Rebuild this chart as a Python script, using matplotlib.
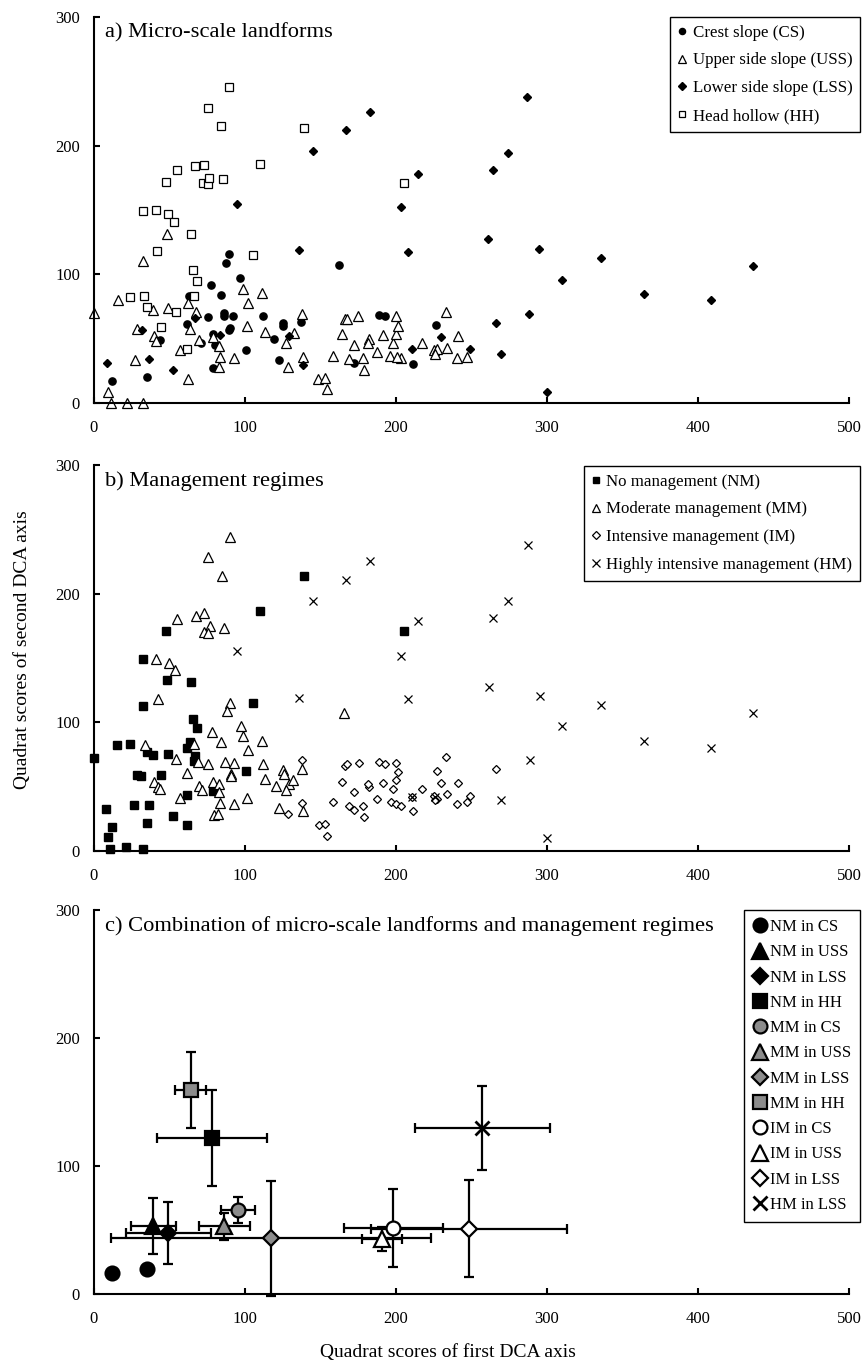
import numpy as np
import matplotlib
matplotlib.use("Agg")
import matplotlib.pyplot as plt

plt.rcParams['font.family'] = ['Liberation Serif', 'DejaVu Serif']

# ---- a) micro-scale landforms ----
cs_x = [89.6, 87.6, 162.5, 97, 77.5, 84, 63, 86.3, 86, 92.3, 75.3, 112, 188.5, 192.5, 226.5,
        125, 125, 137.3, 61.4, 90, 89.6, 119.4, 44, 70.9, 79, 80, 100.7, 211, 122.3, 172,
        78.8, 35, 11.7]
cs_y = [116, 109, 107, 97, 92, 84, 83, 70, 67.6, 67.6, 66.6, 68, 68.7, 67.6, 61,
        62, 59.8, 63, 61.4, 58.3, 56.7, 50, 49, 47, 54, 45.3, 41, 30, 33.4, 30.8,
        27, 20, 17]

uss_x = [0, 48.6, 32.7, 16.1, 49.2, 39.3, 62.5, 67.6, 98.5, 111.5, 102.2, 63.6, 28.5, 40,
         40.8, 57.2, 69.3, 79, 83, 83.4, 82.8, 27.2, 62.5, 9.3, 11, 21.6, 32.7, 92.5, 101,
         113.2, 127, 132.2, 128.5, 137.5, 138.6, 148.6, 152.8, 154.3, 158.5, 164, 166.2,
         167.3, 175, 172.4, 168.7, 178.4, 181.9, 181.7, 178.8, 187.2, 191.2, 196, 197.8,
         199.8, 201.3, 199.8, 203.3, 200.4, 217.4, 225.2, 227, 226, 233.5, 233.3, 240.8,
         240.2, 247.2]
uss_y = [70, 131, 110.6, 80, 74, 72, 78, 70.7, 88.9, 85.5, 78, 57.5, 57.5, 52.3,
         48, 41.5, 49, 51, 44, 36, 28.2, 33.7, 18.4, 8.3, 0, 0, 0, 35, 60,
         55.4, 46.4, 54.7, 28.2, 69, 35.8, 18.4, 19.4, 11, 36.8, 53.6, 65,
         65.5, 67.9, 44.8, 34.2, 34.7, 49.7, 47, 25.6, 39.4, 52.6, 36.5, 47,
         53.4, 60, 67.9, 34.7, 36, 47, 41, 41.7, 38.3, 42.7, 71, 52.3,
         34.7, 36]

lss_x = [182.8, 166.7, 145, 214.8, 94.5, 203.3, 261, 135.8, 208, 67, 31.6, 129, 229.6, 83.2,
         36.6, 8.4, 52.5, 138.6, 210.6, 249, 287, 274, 264, 295, 335.5, 310, 436.6, 364.4,
         408.4, 288, 266, 269.5, 300]
lss_y = [226, 212, 195.6, 178, 155, 152, 127.5, 118.6, 117.6, 65.8, 57, 52, 51.5, 52.8,
         34, 30.8, 25.6, 29.5, 42, 41.7, 238, 194.5, 181, 119.7, 113, 95.6, 106.7, 84.7,
         80, 69, 62.4, 38.3, 8.8]

hh_x = [89.6, 75.3, 84.1, 139, 54.7, 66.9, 72.6, 110, 47.5, 72, 75.3, 76.4, 85.7, 205.5,
        32.2, 40.8, 49, 53, 64.2, 41.7, 105, 65.3, 68, 23.8, 33.1, 66.2, 35.3, 54, 44.4, 61.6]
hh_y = [245.6, 229, 215, 214, 181, 184, 185, 186, 172, 171, 170, 175, 174, 171,
        149, 150, 146.6, 141, 131, 118, 115, 103, 95, 82, 83, 83, 75, 71, 58.8, 42]

# ---- b) management regimes ----
nm_x = [139, 110, 47.7, 205.5, 32.2, 48.3, 64.2, 32.2, 105.3, 65.3, 68, 15.5, 23.8, 63.6,
        34.9, 38.9, 49.2, 61.8, 67.1, 66.4, 0, 28.5, 31.4, 44.2, 100.7, 79, 61.4, 26.5,
        36.2, 52, 35.1, 61.8, 7.7, 11.7, 9, 10.6, 21.2, 32.2]
nm_y = [214, 186.5, 171, 171, 149, 132.6, 131.6, 112.7, 114.8, 102.8, 95.6, 82.6, 83.4, 84.7,
        77, 74.9, 75.6, 80.3, 73.6, 70, 72.5, 59, 58, 59.3, 62.2, 46.6, 43.5, 35.8,
        35.8, 27.2, 21.8, 20.2, 32.6, 18.7, 10.9, 1.8, 3.1, 1.8]

mm_x = [90, 75.7, 84.5, 55.2, 67.3, 73, 76.8, 73, 75.7, 86.1, 41.3, 49.7, 53.4, 42.2, 90,
        87.9, 165.6, 97.4, 78, 98.5, 84.3, 111.5, 33.8, 66.4, 102.2, 54.3, 69.1, 75.7,
        86.6, 92.7, 112.1, 125.4, 126, 137.8, 61.6, 90.5, 91, 40, 42.6, 44, 69.5, 71.3,
        79, 83, 82.6, 113.2, 120.3, 129, 131.6, 127, 57, 83.4, 92.7, 101, 122.7, 138.6,
        79.5, 82.1]
mm_y = [244, 228.5, 213.5, 180.6, 182.4, 185, 175, 170, 169.4, 173.6, 149.5, 146.4, 140.4, 118, 115.3,
        108.8, 107.5, 96.9, 92.2, 89, 84.7, 85.8, 82.6, 82.9, 78.2, 71.2, 69.2, 67.4,
        69.2, 68.4, 67.4, 62.7, 59.6, 64, 60.6, 60, 58, 53.6, 49.7, 48, 50.3, 47.2,
        53.6, 52.3, 45.9, 56.2, 50.3, 51.9, 55.4, 47.2, 41.5, 37.3, 36.3, 41.5, 33.7, 31.1,
        27.7, 28.5]

im_x = [137.8, 138, 128.3, 148.8, 152.8, 154.5, 158.5, 164, 166.2, 167.3, 175.3, 172.4, 168.7,
        172.4, 178.4, 181.9, 181.7, 178.8, 187.2, 189, 193, 191.2, 196.5, 200, 197.8, 199.8,
        201.3, 199.8, 203.1, 217.4, 210.4, 211.5, 225.4, 227, 226, 227, 229.6, 233.3, 233.5,
        240.8, 240.2, 247.2, 249, 266]
im_y = [70.5, 37.3, 29, 19.9, 20.7, 11.9, 37.8, 54, 65.8, 67.4, 68.4, 46.1, 35.2,
        32.1, 35, 49.7, 52.3, 26.4, 40.4, 69.4, 67.4, 53.1, 37.8, 36.8, 48.4, 54.9,
        61.4, 68.4, 35.2, 48.2, 42, 31.1, 42.5, 40.7, 39.4, 61.9, 52.8, 73, 44,
        52.8, 36.3, 37.8, 43, 63.4]

hm_x = [182.8, 166.7, 145.3, 214.8, 94.5, 203.3, 135.8, 208, 210.4, 226, 287.2, 274, 264,
        261.6, 295.2, 335.5, 310, 436.6, 364.4, 408.4, 288.5, 269.5, 300]
hm_y = [225.4, 211, 194.6, 178.5, 155.2, 151.8, 119.2, 117.9, 42, 42, 237.5, 194.5, 181.3,
        127.8, 120.2, 113.2, 96.9, 107.5, 85.8, 80.3, 70.4, 39.9, 10.1]

# ---- c) combination: group means and SD ----
grp_names = ['NM in CS', 'NM in USS', 'NM in LSS', 'NM in HH', 'MM in CS', 'MM in USS',
             'MM in LSS', 'MM in HH', 'IM in CS', 'IM in USS', 'IM in LSS', 'HM in LSS']
grp_x = [11.7, 39.3, 49.2, 77.9, 95.6, 86.3, 117.2, 64.2, 198.2, 190.5, 248.3, 257.2]
grp_y = [16.2, 53.2, 47.5, 122, 65.7, 53, 43.6, 159.6, 51.4, 42.8, 51, 129.6]
grp_sdx = [0, 14.7, 28, 36.4, 11.3, 17, 105.8, 10.3, 32.7, 13.2, 64.7, 44.5]
grp_sdy = [0, 22, 24, 37.5, 10, 10.6, 45, 29.7, 30.4, 9.5, 37.8, 32.6]
# second NM in CS quadrat (no error bar)
extra_x = [35.3]
extra_y = [19.6]

# marker styles for panel c
grp_style = {
    'NM in CS': ('o', 'black'), 'NM in USS': ('^', 'black'), 'NM in LSS': ('D', 'black'),
    'NM in HH': ('s', 'black'), 'MM in CS': ('o', '0.55'), 'MM in USS': ('^', '0.55'),
    'MM in LSS': ('D', '0.55'), 'MM in HH': ('s', '0.55'), 'IM in CS': ('o', 'white'),
    'IM in USS': ('^', 'white'), 'IM in LSS': ('D', 'white'), 'HM in LSS': ('x', 'black'),
}
grp_ms = {'o': 10, '^': 11, 'D': 8, 's': 10, 'x': 10}

W, H = 868, 1370
fig = plt.figure(figsize=(W / 100, H / 100), dpi=100)

left = 94 / W
width = 755 / W


def make_ax(top_px, bot_px):
    ax = fig.add_axes([left, 1 - bot_px / H, width, (bot_px - top_px) / H])
    ax.set_xlim(0, 500)
    ax.set_ylim(0, 300)
    ax.set_xticks(np.arange(0, 501, 100))
    ax.set_yticks(np.arange(0, 301, 100))
    for s in ['top', 'right']:
        ax.spines[s].set_visible(False)
    for s in ['left', 'bottom']:
        ax.spines[s].set_linewidth(1.5)
    ax.tick_params(direction='in', length=4, width=1.5, labelsize=12)
    ax.tick_params(axis='x', pad=12)
    ax.tick_params(axis='y', pad=10)
    return ax


def legend_at(ax, handles, labels, top_px, **kw):
    leg = ax.legend(handles, labels, loc='upper right',
                    bbox_to_anchor=(860 / W, 1 - top_px / H),
                    bbox_transform=fig.transFigure, borderaxespad=0,
                    fancybox=False, framealpha=1, edgecolor='black', **kw)
    leg.get_frame().set_linewidth(1.0)
    return leg


def panel_title(ax, s):
    ax.text(0.0146, 0.985, s, transform=ax.transAxes, fontsize=16.2, va='top', ha='left')


# panel a
ax1 = make_ax(17, 403)
h1 = ax1.plot(cs_x, cs_y, 'o', ms=5.2, color='black', clip_on=False, ls='none')[0]
h2 = ax1.plot(uss_x, uss_y, '^', ms=7, mfc='white', mec='black', mew=0.9, clip_on=False, ls='none')[0]
h3 = ax1.plot(lss_x, lss_y, 'D', ms=4.5, color='black', clip_on=False, ls='none')[0]
h4 = ax1.plot(hh_x, hh_y, 's', ms=5.5, mfc='white', mec='black', mew=0.9, clip_on=False, ls='none')[0]
panel_title(ax1, 'a) Micro-scale landforms')
legend_at(ax1, [h1, h2, h3, h4],
          ['Crest slope (CS)', 'Upper side slope (USS)', 'Lower side slope (LSS)', 'Head hollow (HH)'],
          17, fontsize=12.2, handlelength=0.6, handletextpad=0.3, labelspacing=0.7,
          borderpad=0.45, markerscale=0.85)

# panel b
ax2 = make_ax(465, 851)
g1 = ax2.plot(nm_x, nm_y, 's', ms=5.5, color='black', clip_on=False, ls='none')[0]
g2 = ax2.plot(mm_x, mm_y, '^', ms=7, mfc='white', mec='black', mew=0.9, clip_on=False, ls='none')[0]
g3 = ax2.plot(im_x, im_y, 'D', ms=4.5, mfc='white', mec='black', mew=0.9, clip_on=False, ls='none')[0]
g4 = ax2.plot(hm_x, hm_y, 'x', ms=6, color='black', mew=0.9, clip_on=False, ls='none')[0]
panel_title(ax2, 'b) Management regimes')
legend_at(ax2, [g1, g2, g3, g4],
          ['No management (NM)', 'Moderate management (MM)', 'Intensive management (IM)',
           'Highly intensive management (HM)'],
          466, fontsize=12.2, handlelength=0.6, handletextpad=0.3, labelspacing=0.7,
          borderpad=0.45, markerscale=0.85)

# panel c
ax3 = make_ax(910, 1294)
c_handles = []
for name, x, y, sx, sy in zip(grp_names, grp_x, grp_y, grp_sdx, grp_sdy):
    mk, fc = grp_style[name]
    if sx > 0 or sy > 0:
        ax3.errorbar(x, y, xerr=sx, yerr=sy, fmt='none', ecolor='black', elinewidth=1.6,
                     capsize=3.5, capthick=1.6, clip_on=False, zorder=2)
    if mk == 'x':
        h, = ax3.plot(x, y, mk, ms=grp_ms[mk], color='black', mew=2, ls='none', zorder=3,
                      clip_on=False)
    else:
        h, = ax3.plot(x, y, mk, ms=grp_ms[mk], mfc=fc, mec='black', mew=1.6, ls='none',
                      zorder=3, clip_on=False)
    c_handles.append(h)
ax3.plot(extra_x, extra_y, 'o', ms=10, mfc='black', mec='black', mew=1.6, ls='none', zorder=3)
panel_title(ax3, 'c) Combination of micro-scale landforms and management regimes')
legend_at(ax3, c_handles, grp_names, 910, fontsize=12, handlelength=0.75,
          handletextpad=0.22, labelspacing=0.555, borderpad=0.55, markerscale=1.0)

fig.text(448 / W, 1 - 1352 / H, 'Quadrat scores of first DCA axis', fontsize=14,
         ha='center', va='center')
fig.text(23 / W, 1 - 650 / H, 'Quadrat scores of second DCA axis', fontsize=14,
         ha='center', va='center', rotation=90)

fig.savefig('out.png', dpi=100)
